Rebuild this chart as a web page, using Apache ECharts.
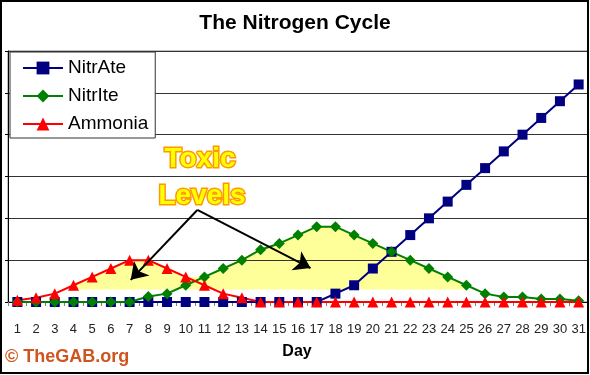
<!DOCTYPE html>
<html>
<head>
<meta charset="utf-8">
<script src="https://cdn.jsdelivr.net/npm/echarts@6/dist/echarts.min.js"></script>
<style>
  html, body { margin: 0; padding: 0; background: #fff; }
  #chart { width: 590px; height: 375px; }
</style>
</head>
<body>
<div id="chart"></div>
<script>
// ---- data ----
const days = ['1','2','3','4','5','6','7','8','9','10','11','12','13','14','15','16',
              '17','18','19','20','21','22','23','24','25','26','27','28','29','30','31'];
const nitrate = [0,0,0,0,0,0,0,0,0,0,0,0,0,0,0,0,0,2,4,8,12,16,20,24,28,32,36,40,44,48,52];
const nitrite = [0,0,0,0,0,0,0,1.3,2,4,6,8,10,12.5,14,16,18,18,16,14,12,10,8,6,4,2,1.2,1.2,0.7,0.7,0.3];
const ammonia = [0.4,1,2,4,6,8,10,10,8,6,4,2,1,0,0,0,0,0,0,0,0,0,0,0,0,0,0,0,0,0,0];
// top edge of the yellow "toxic" band (days 4..25) and its floor
const toxicTop = ['-','-','-',4,6,8,10,10,8,6,6,8,10,12.5,14,16,18,18,16,14,12,10,8,6,4,'-','-','-','-','-','-'];
const toxicFloor = ['-','-','-',3,3,3,3,3,3,3,3,3,3,3,3,3,3,3,3,3,3,3,3,3,3,'-','-','-','-','-','-'];
// annotation arrows (day, value)
const arrowStart = [10.62, 22];
const arrowEnds = [[7.06, 5.3], [16.67, 8.1]];

const FONT = "'Liberation Sans', Arial, sans-serif";
const bandHeight = toxicTop.map((v, i) => v === '-' ? '-' : v - toxicFloor[i]);

const chart = echarts.init(document.getElementById('chart'), null, { renderer: 'canvas' });
chart.setOption({
  animation: false,
  backgroundColor: '#ffffff',
  title: {
    text: 'The Nitrogen Cycle',
    left: 'center',
    top: 13,
    padding: 0,
    textStyle: { fontFamily: FONT, fontSize: 21, fontWeight: 'bold', color: '#000' }
  },
  legend: {
    data: ['NitrAte', 'NitrIte', 'Ammonia'],
    orient: 'vertical',
    left: 10,
    top: 52,
    padding: [6, 7, 4, 12],
    itemWidth: 40,
    itemHeight: 16,
    itemGap: 8,
    backgroundColor: '#ffffff',
    borderColor: '#333333',
    borderWidth: 1,
    textStyle: { fontFamily: FONT, fontSize: 19, color: '#000', lineHeight: 20 }
  },
  grid: {
    left: 8, right: 2, top: 51, bottom: 73,
    show: true, borderColor: '#808080', borderWidth: 1
  },
  xAxis: [{
    type: 'category',
    data: days,
    boundaryGap: true,
    axisLine: { lineStyle: { color: '#000', width: 1 } },
    axisTick: { show: true, length: 4, lineStyle: { color: '#808080' } },
    axisLabel: { interval: 0, margin: 21, fontFamily: FONT, fontSize: 13, color: '#222' },
    splitLine: { show: false }
  }, {
    type: 'value',
    min: 0.5, max: 31.5,
    show: false,
    splitLine: { show: false }
  }],
  yAxis: {
    type: 'value',
    min: 0, max: 60, interval: 10,
    axisLine: { show: true, lineStyle: { color: '#000' } },
    axisTick: { show: true, length: 3, lineStyle: { color: '#000' } },
    axisLabel: { show: false },
    splitLine: { show: true, lineStyle: { color: '#333', width: 1 } }
  },
  series: [
    {
      name: 'toxicFloor', type: 'line', stack: 'toxic', data: toxicFloor,
      symbol: 'none', lineStyle: { opacity: 0 }, silent: true, z: -1
    },
    {
      name: 'toxicBand', type: 'line', stack: 'toxic', data: bandHeight,
      symbol: 'none', lineStyle: { opacity: 0 },
      areaStyle: { color: '#FFFF99', opacity: 1 }, silent: true, z: -1
    },
    {
      name: 'NitrAte', type: 'line', data: nitrate,
      symbol: 'rect', symbolSize: 10,
      lineStyle: { color: '#000080', width: 2 },
      itemStyle: { color: '#000080' }
    },
    {
      name: 'NitrIte', type: 'line', data: nitrite,
      symbol: 'diamond', symbolSize: 11,
      lineStyle: { color: '#008000', width: 2 },
      itemStyle: { color: '#008000' }
    },
    {
      name: 'Ammonia', type: 'line', data: ammonia,
      symbol: 'triangle', symbolSize: 11,
      lineStyle: { color: '#FF0000', width: 2 },
      itemStyle: { color: '#FF0000' }
    },
    {
      name: 'arrows', type: 'line', xAxisIndex: 1, data: [],
      markLine: {
        silent: true,
        symbol: ['none', 'arrow'],
        symbolSize: 16,
        label: { show: false },
        lineStyle: { color: '#000', width: 2, type: 'solid' },
        data: arrowEnds.map(e => [{ coord: arrowStart }, { coord: e }])
      }
    }
  ],
  graphic: [
    {
      type: 'text', x: 200, y: 159,
      style: { text: 'Toxic', font: 'bold 28px ' + FONT, fill: '#FFFF00', stroke: '#FF9900', lineWidth: 3,
               textAlign: 'center', textVerticalAlign: 'middle' }, z: 10
    },
    {
      type: 'text', x: 202, y: 196,
      style: { text: 'Levels', font: 'bold 28px ' + FONT, fill: '#FFFF00', stroke: '#FF9900', lineWidth: 3,
               textAlign: 'center', textVerticalAlign: 'middle' }, z: 10
    },
    {
      type: 'text', x: 297, y: 352,
      style: { text: 'Day', font: 'bold 16px ' + FONT, fill: '#000', textAlign: 'center', textVerticalAlign: 'middle' }
    },
    {
      type: 'text', x: 5, y: 357,
      style: { text: '© TheGAB.org', font: 'bold 18px ' + FONT, fill: '#CF5520', textAlign: 'left', textVerticalAlign: 'middle' }
    },
    {
      type: 'rect', shape: { x: 1, y: 1, width: 587, height: 372 },
      style: { fill: 'none', stroke: '#000', lineWidth: 2 }, z: 20, silent: true
    }
  ]
});
</script>
</body>
</html>
